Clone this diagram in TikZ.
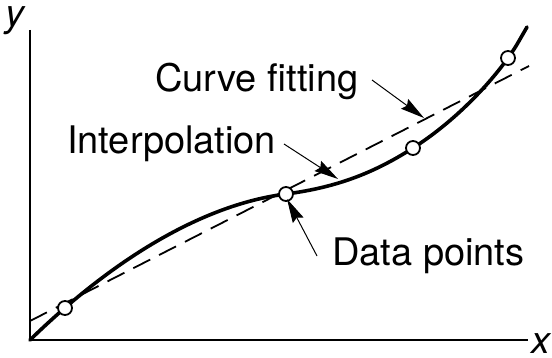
\documentclass[tikz,border=0pt]{standalone}
\usepackage{fontspec}
\setmainfont{TeX Gyre Heros}
\usetikzlibrary{arrows.meta}
\begin{document}
\begin{tikzpicture}[x=1pt,y=-1pt,
  axis/.style={line width=2.9pt},
  fitline/.style={line width=1.8pt,dash pattern=on 19pt off 10pt},
  interp/.style={line width=3.6pt},
  dp/.style={circle,draw,fill=white,line width=1.8pt,minimum size=14pt,inner sep=0pt},
  lbl/.style={font=\fontsize{38}{40}\selectfont,inner sep=0pt,anchor=base west},
  axlbl/.style={font=\fontsize{38}{40}\selectfont\itshape,inner sep=0pt,anchor=base},
  pointer/.style={line width=1pt,-{Stealth[length=24pt,width=12pt,inset=3pt]}}]
\useasboundingbox (0,0) rectangle (552,358);
% axes
\coordinate (o) at (30,340);
\coordinate (ytop) at (30,30);
\coordinate (xend) at (528,340);
\draw[axis] (ytop) -- (o) -- (xend);
\node[axlbl] (ylab) at (15,27) {y};
\node[axlbl] (xlab) at (541,353) {x};
% curve fitting (dashed)
\coordinate (f0) at (30,321);
\coordinate (f1) at (529,66);
\draw[fitline] (f0) -- (f1);
% interpolation curve
\coordinate (c4) at (527,27);
\draw[interp,line cap=round] (o) .. controls (110,262) and (200,205) .. (286,194)
  .. controls (340,187) and (377,171) .. (413,148)
  .. controls (450,124.6) and (485,90) .. (508,58)
  .. controls (515,48) .. (c4);
% data points
\node[dp] (p1) at (65,308) {};
\node[dp] (p2) at (286,194) {};
\node[dp] (p3) at (413,148) {};
\node[dp] (p4) at (508,58) {};
% labels
\node[lbl] (lfit) at (155,92) {Curve fitting};
\node[lbl] (linterp) at (67,154) {Interpolation};
\node[lbl] (ldata) at (332,266) {Data points};
% pointers
\coordinate (afit0) at (372,80);
\coordinate (afit1) at (424,118);
\coordinate (aint0) at (284,144);
\coordinate (aint1) at (338,179);
\coordinate (adat0) at (317,256);
\coordinate (adat1) at (287,199);
\draw[pointer] (afit0) -- (afit1);
\draw[pointer] (aint0) -- (aint1);
\draw[pointer] (adat0) -- (adat1);
\end{tikzpicture}
\end{document}
